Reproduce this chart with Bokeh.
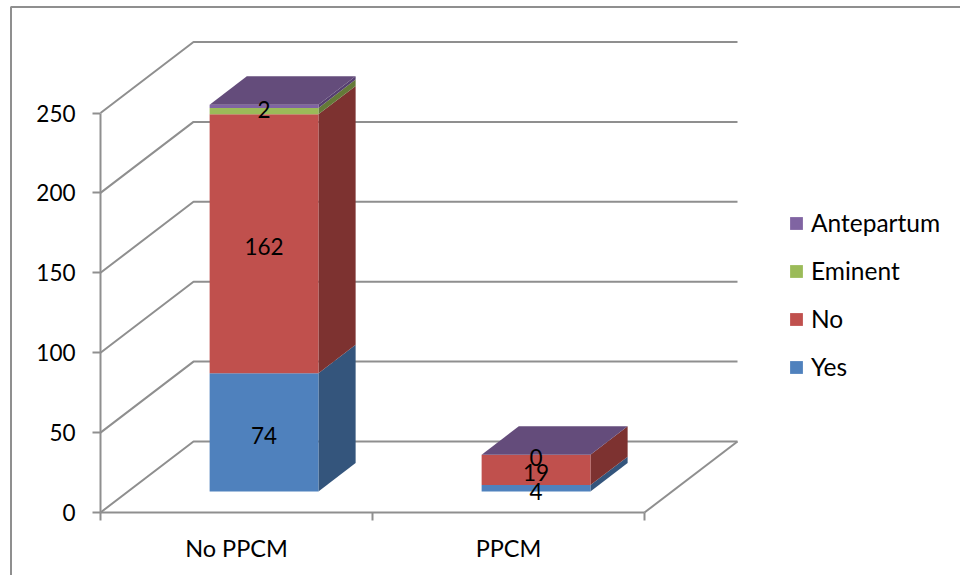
from bokeh.core.properties import value
from bokeh.embed import file_html
from bokeh.models import ColumnDataSource, FixedTicker, Legend, LegendItem, LinearAxis, Range1d
from bokeh.plotting import figure
from bokeh.resources import INLINE

# Chart data
categories = ["No PPCM", "PPCM"]
series_names = ["Yes", "No", "Eminent", "Antepartum"]
yes_values = [74, 4]
no_values = [162, 19]
eminent_values = [4, 0]
antepartum_values = [2, 0]
value_ticks = [0, 50, 100, 150, 200, 250]

# Front, side and top face colours per series
front_colors = ["#4f81bd", "#c0504d", "#9bbb59", "#8064a2"]
side_colors = ["#34557c", "#7d3230", "#647a38", "#553f70"]
top_colors = ["#3f6390", "#923c3a", "#75903f", "#644c7b"]
AXIS_COLOR = "#8f8f8f"
FONT = "Lato"
FONT_SIZE = "22.5px"
CATEGORY_FONT_SIZE = "23.5px"
LEGEND_FONT_SIZE = "24.5px"

# Scale of the front plane, in pixels per data unit
PX_X = 272.0
PX_Y = 399.5 / 250
ORIGIN_X, ORIGIN_Y = 100.0, 512.0
WIDTH, HEIGHT = 960, 575

# Oblique projection: a unit of depth moves a point right and up
WALL_DX = 93.0 / PX_X
WALL_DY = 71.0 / PX_Y
BAR_WIDTH = 0.4
BAR_NEAR = 0.296
BAR_FAR = 0.696


def project(x, v, depth):
    return x + depth * WALL_DX, v + depth * WALL_DY


p = figure(
    width=WIDTH, height=HEIGHT, output_backend="svg", toolbar_location=None,
    x_range=Range1d(-ORIGIN_X / PX_X, (WIDTH - ORIGIN_X) / PX_X),
    y_range=Range1d((ORIGIN_Y - HEIGHT) / PX_Y, ORIGIN_Y / PX_Y),
    x_axis_location=None, y_axis_location=None, min_border=0, tools="",
)
p.outline_line_color = None
p.xgrid.visible = False
p.ygrid.visible = False
p.background_fill_color = "white"
p.border_fill_color = "white"

# Outer chart border, open towards the right and bottom of the page
border_x = (10.5 - ORIGIN_X) / PX_X
border_y = (ORIGIN_Y - 6.5) / PX_Y
p.line([border_x, border_x, (WIDTH - ORIGIN_X) / PX_X],
       [(ORIGIN_Y - HEIGHT) / PX_Y, border_y, border_y],
       line_color=AXIS_COLOR, line_width=2)

# Walls and floor of the box
n_cat = len(categories)
for tick in value_ticks:
    bx, by = project(0, tick, 1)
    rx, ry = project(n_cat, tick, 1)
    p.line([0, bx, rx], [tick, by, ry], line_color=AXIS_COLOR, line_width=2)
fx, fy = project(n_cat, 0, 1)
p.line([n_cat, fx], [0, fy], line_color=AXIS_COLOR, line_width=2)

# Stacked bars, drawn as side, top and front faces
stacks = [yes_values, no_values, eminent_values, antepartum_values]
legend_renderers = {}
for s, vals in enumerate(stacks):
    fx_list, fy_list, sx_list, sy_list = [], [], [], []
    for c, v in enumerate(vals):
        base = sum(stacks[k][c] for k in range(s))
        top = base + v
        x0 = c + 0.5 - BAR_WIDTH / 2
        x1 = x0 + BAR_WIDTH
        corners = [project(x0, base, BAR_NEAR), project(x1, base, BAR_NEAR),
                   project(x1, top, BAR_NEAR), project(x0, top, BAR_NEAR)]
        fx_list.append([q[0] for q in corners])
        fy_list.append([q[1] for q in corners])
        side = [project(x1, base, BAR_NEAR), project(x1, base, BAR_FAR),
                project(x1, top, BAR_FAR), project(x1, top, BAR_NEAR)]
        sx_list.append([q[0] for q in side])
        sy_list.append([q[1] for q in side])
    p.patches(sx_list, sy_list, fill_color=side_colors[s], line_color=None)
    legend_renderers[series_names[s]] = p.patches(
        fx_list, fy_list, fill_color=front_colors[s], line_color=None)

for c in range(n_cat):
    top = sum(st[c] for st in stacks)
    x0 = c + 0.5 - BAR_WIDTH / 2
    x1 = x0 + BAR_WIDTH
    cap = [project(x0, top, BAR_NEAR), project(x1, top, BAR_NEAR),
           project(x1, top, BAR_FAR), project(x0, top, BAR_FAR)]
    p.patch([q[0] for q in cap], [q[1] for q in cap],
            fill_color=top_colors[3], line_color=None)

# Data labels for the series that carry them
label_x, label_y, label_text = [], [], []
for s, vals in enumerate(stacks):
    if series_names[s] == "Eminent":
        continue
    for c, v in enumerate(vals):
        base = sum(stacks[k][c] for k in range(s))
        lx, ly = project(c + 0.5, base + v / 2, BAR_NEAR)
        label_x.append(lx)
        label_y.append(ly)
        label_text.append(str(v))
p.text(x="x", y="y", text="t", source=ColumnDataSource(dict(x=label_x, y=label_y, t=label_text)),
       text_font=value(FONT), text_font_size=value(FONT_SIZE), text_color="black",
       text_align="center", text_baseline="middle", y_offset=3)

# Axes sit on the front plane
y_axis = LinearAxis(
    fixed_location=0, ticker=FixedTicker(ticks=value_ticks), bounds=(0, 250),
    axis_line_color=AXIS_COLOR, axis_line_width=2,
    major_tick_line_color=AXIS_COLOR, major_tick_line_width=2,
    major_tick_in=0, major_tick_out=8, minor_tick_in=0, minor_tick_out=0,
    major_label_text_font=FONT, major_label_text_font_size=FONT_SIZE,
    major_label_text_color="black", major_label_standoff=17,
)
p.add_layout(y_axis, "left")

label_positions = [c + 0.5 for c in range(n_cat)]
x_axis = LinearAxis(
    fixed_location=0,
    ticker=FixedTicker(ticks=label_positions, minor_ticks=list(range(n_cat + 1))),
    bounds=(0, n_cat),
    major_label_overrides={pos: name for pos, name in zip(label_positions, categories)},
    axis_line_color=AXIS_COLOR, axis_line_width=2,
    major_tick_line_color=None, major_tick_in=0, major_tick_out=0,
    minor_tick_line_color=AXIS_COLOR, minor_tick_line_width=2,
    minor_tick_in=0, minor_tick_out=8,
    major_label_text_font=FONT, major_label_text_font_size=CATEGORY_FONT_SIZE,
    major_label_text_color="black", major_label_standoff=13,
)
p.add_layout(x_axis, "below")

# Legend lists the series from the top of the stack downwards
legend = Legend(
    items=[LegendItem(label=name, renderers=[legend_renderers[name]])
           for name in reversed(series_names)],
    location=(788, 575 - 381), border_line_color=None, background_fill_alpha=0,
    glyph_width=16, glyph_height=16, label_width=140, label_height=24,
    spacing=19, padding=0, margin=0, label_standoff=7,
    label_text_font=FONT, label_text_font_size=LEGEND_FONT_SIZE, label_text_color="black",
)
p.add_layout(legend, "center")

open("out.html", "w").write(file_html(p, INLINE))
